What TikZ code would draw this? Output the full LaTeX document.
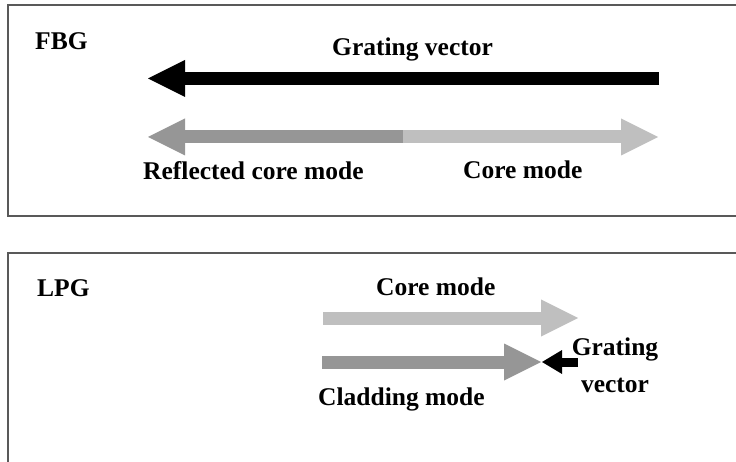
\documentclass[tikz,border=0pt]{standalone}
\usepackage{fontspec}
\setmainfont{Liberation Serif}
\usetikzlibrary{arrows.meta}
\definecolor{darkmode}{gray}{0.59}
\definecolor{lightmode}{gray}{0.75}
\definecolor{framegray}{gray}{0.35}

\begin{document}
\begin{tikzpicture}[
    x=1pt,
    y=-1pt,
    lbl/.style={font=\fontsize{25.5}{37}\selectfont\bfseries, inner sep=0pt, anchor=base west},
    panel/.style={draw=framegray, line width=1.5pt},
    fat/.style={line width=13pt, -{Triangle[length=37pt,width=37pt,line width=0pt]}},
    kick/.style={line width=9pt, -{Triangle[length=20pt,width=24pt,line width=0pt]}}
]
\useasboundingbox (0,0) rectangle (736,462);

% panels
\draw[panel] (8,5) rectangle (745,216);
\draw[panel] (8,253) rectangle (745,475);

% FBG
\coordinate (gvR) at (659,78.5);
\coordinate (gvL) at (148,78.5);
\coordinate (split) at (403,137);
\coordinate (refl) at (148,137);
\coordinate (core) at (658,137);

\draw[fat,black] (gvR) -- (gvL);
\draw[fat,darkmode] (split) -- (refl);
\draw[fat,lightmode] (split) -- (core);

\node[lbl] (fbg) at (35,50) {FBG};
\node[lbl] (gv) at (332,56) {Grating vector};
\node[lbl] (reflbl) at (143,180) {Reflected core mode};
\node[lbl] (corelbl) at (463,179) {Core mode};

% LPG
\coordinate (coreS) at (323,318);
\coordinate (coreE) at (578,318);
\coordinate (cladS) at (322,362);
\coordinate (cladE) at (541,362);
\coordinate (kickS) at (578,362);
\coordinate (kickE) at (542,362);

\draw[fat,lightmode] (coreS) -- (coreE);
\draw[fat,darkmode] (cladS) -- (cladE);
\draw[kick,black] (kickS) -- (kickE);

\node[lbl] (lpg) at (37,297) {LPG};
\node[lbl] (core2) at (376,296) {Core mode};
\node[lbl] (clad) at (318,405) {Cladding mode};
\node[lbl, anchor=base, align=center] (gv2) at (615,392) {Grating\\vector};
\end{tikzpicture}
\end{document}
